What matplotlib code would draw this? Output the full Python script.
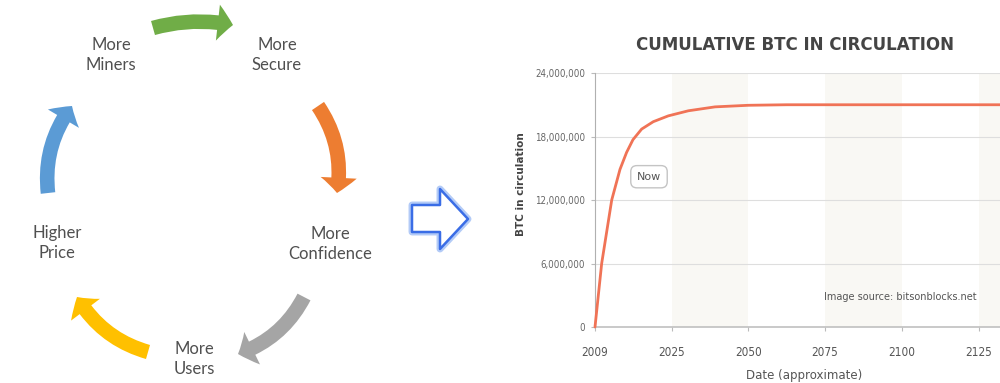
import numpy as np
import matplotlib
matplotlib.use('Agg')
import matplotlib.pyplot as plt
from matplotlib.patches import FancyArrowPatch, Polygon

# cycle diagram labels
CYCLE_LABELS = ['More\nMiners', 'More\nSecure', 'More\nConfidence', 'More\nUsers', 'Higher\nPrice']
CYCLE_COLORS = ['#70ad47', '#ed7d31', '#a5a5a5', '#ffc000', '#5b9bd5']

# chart data (x in tick units, btc in millions)
TICK_LABELS = ['2009', '2025', '2050', '2075', '2100', '2125']
CURVE_POS = [0, 0.087, 0.218, 0.326, 0.412, 0.495, 0.608, 0.76, 0.956, 1.217, 1.565, 2.0, 2.5, 3.0, 4.0, 5.3]
CURVE_BTC = [0, 6, 12, 14.9, 16.5, 17.7, 18.7, 19.4, 19.95, 20.43, 20.8, 20.95, 21.0, 21.0, 21.0, 21.0]
Y_TICKS = [0, 6, 12, 18, 24]

TEXT = '#505050'
LINE = '#f07356'


def px(x, y):
    """ pixel coords -> figure fraction """
    return x / 1000, 1 - y / 383


def draw_cycle(bg):
    # label positions in pixels
    spots = [(111, 55), (277, 55), (330, 244), (194, 359), (57, 243)]
    for lab, (x, y) in zip(CYCLE_LABELS, spots):
        bg.text(x, y, lab, ha='center', va='center', fontsize=12, color=TEXT,
                family='Lato', linespacing=1.25)

    # curved arrows: tail, tip, rad
    arrows = [((153, 28), (233, 25), -0.12),
              ((318, 106), (337, 193), -0.2),
              ((304, 297), (238, 354), -0.2),
              ((148, 352), (77, 297), -0.2),
              ((48, 193), (72, 106), -0.2)]
    for (tail, tip, rad), col in zip(arrows, CYCLE_COLORS):
        arr = FancyArrowPatch(tail, tip, connectionstyle='arc3,rad=%s' % rad,
                              arrowstyle='simple,head_length=1.1,head_width=2.6,tail_width=1.05',
                              mutation_scale=10, color=col, shrinkA=0, shrinkB=0, lw=0)
        bg.add_patch(arr)

    # hollow blue arrow in the middle
    pts = [(412, 205), (440, 205), (440, 189), (468, 219), (440, 249), (440, 232), (412, 232)]
    bg.add_patch(Polygon(pts, closed=True, fc='none', ec='#b3cbf7', lw=5, joinstyle='round'))
    bg.add_patch(Polygon(pts, closed=True, fc='white', ec='#3a6de6', lw=1.8, joinstyle='round'))


def draw_chart(fig):
    ax = fig.add_axes([0.595, 0.1462, 0.405, 0.6632])
    ax.set_xlim(0, 5.28)
    ax.set_ylim(0, 24)
    for a, b in [(1, 2), (3, 4), (5, 6)]:
        ax.axvspan(a, b, color='#f9f8f4', lw=0, zorder=0)
    ax.set_yticks(Y_TICKS)
    ax.set_yticklabels(['{:,}'.format(v * 1000000) for v in Y_TICKS],
                       fontstretch='condensed', fontsize=7, color='#666')
    ax.set_xticks(range(len(TICK_LABELS)))
    ax.set_xticklabels(TICK_LABELS, fontstretch='condensed', fontsize=8.5, color='#555')
    ax.tick_params(axis='x', length=3, color='#bbb', pad=11)
    ax.tick_params(axis='y', length=3, color='#bbb', pad=4)
    ax.grid(axis='y', color='#dedede', lw=0.8)
    ax.set_axisbelow(True)
    for s in ['top', 'right']:
        ax.spines[s].set_visible(False)
    ax.spines['left'].set_color('#b0b0b0')
    ax.spines['bottom'].set_color('#c0c0c0')
    ax.spines['bottom'].set_linewidth(1.2)

    ax.plot(CURVE_POS, CURVE_BTC, color=LINE, lw=2, solid_capstyle='round',
            solid_joinstyle='round', clip_on=False, zorder=3)

    ax.text(0.704, 14.2, 'Now', ha='center', va='center', fontsize=8, color='#555',
            zorder=4, bbox=dict(boxstyle='round,pad=0.55', fc='white', ec='#c4c4c4', lw=1))
    ax.text(4.97, 2.85, 'Image source: bitsonblocks.net', ha='right', va='center',
            fontsize=7, color='#555')

    fig.text(*px(795, 45), 'CUMULATIVE BTC IN CIRCULATION', ha='center', va='center',
             fontsize=12, fontweight='bold', color='#444')
    fig.text(*px(521, 184), 'BTC in circulation', ha='center', va='center', rotation=90,
             fontsize=7.5, fontweight='bold', color='#444')
    fig.text(*px(804, 375), 'Date (approximate)', ha='center', va='center',
             fontsize=8.5, color='#555')


def main():
    fig = plt.figure(figsize=(10, 3.83), dpi=100)
    bg = fig.add_axes([0, 0, 1, 1])
    bg.set_xlim(0, 1000)
    bg.set_ylim(383, 0)
    bg.axis('off')
    draw_cycle(bg)
    draw_chart(fig)
    fig.savefig('out.png', dpi=100)


if __name__ == "__main__":
    main()
